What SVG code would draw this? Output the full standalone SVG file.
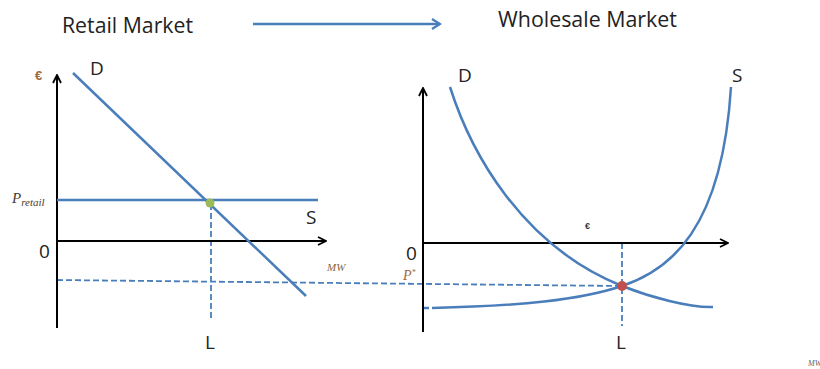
<svg xmlns="http://www.w3.org/2000/svg" width="820" height="369" viewBox="0 0 820 369">
<style>
.axis{stroke:#000;stroke-width:2;fill:none}
.curve{stroke:#4a7ebb;stroke-width:2.5;fill:none}
.dash{stroke:#4a7ebb;stroke-width:1.8;fill:none;stroke-dasharray:6,3}
.title{font-family:"Open Sans","Liberation Sans",Arial,sans-serif;font-size:21px;fill:#222}
.lbl{font-family:"Open Sans","Liberation Sans",Arial,sans-serif;font-size:19px;fill:#222}
.math{font-family:"Liberation Serif","Times New Roman",serif;font-style:italic;fill:#4a3b2e}
</style>
<defs>
<marker id="ah" viewBox="0 0 10 10" refX="9" refY="5" markerWidth="10" markerHeight="10" markerUnits="userSpaceOnUse" orient="auto">
<path d="M1,1 L9,5 L1,9" fill="none" stroke="#000" stroke-width="1.8"/>
</marker>
<marker id="ahb" viewBox="0 0 12 12" refX="10" refY="6" markerWidth="12" markerHeight="12" markerUnits="userSpaceOnUse" orient="auto">
<path d="M2,1 L10,6 L2,11" fill="none" stroke="#4a7ebb" stroke-width="2.2"/>
</marker>
</defs>

<g id="titles">
<text class="title" x="62" y="33" textLength="131" lengthAdjust="spacingAndGlyphs">Retail Market</text>
<text class="title" x="498" y="27" textLength="179" lengthAdjust="spacingAndGlyphs">Wholesale Market</text>
</g>

<g id="connectors">
<line x1="253" y1="24" x2="440" y2="24" stroke="#4a7ebb" stroke-width="2.5" marker-end="url(#ahb)"/>
<line class="dash" x1="57" y1="280" x2="620" y2="286"/>
<line class="dash" x1="211" y1="204" x2="211" y2="318"/>
<line class="dash" x1="622" y1="243" x2="622" y2="326"/>
</g>

<g id="retail-chart">
<line class="axis" x1="57" y1="328" x2="57" y2="75" marker-end="url(#ah)"/>
<line class="axis" x1="57" y1="241" x2="326" y2="241" marker-end="url(#ah)"/>
<line class="curve" x1="73" y1="73" x2="306" y2="296"/>
<line class="curve" x1="57" y1="200" x2="318" y2="200"/>
<circle cx="210" cy="203" r="4.5" fill="#9bbb59"/>
<text x="35" y="80" style="font-family:'Liberation Sans',Arial,sans-serif;font-size:13px;font-weight:bold;fill:#9a6a3c">€</text>
<text class="lbl" x="90" y="75">D</text>
<text class="lbl" x="306" y="224">S</text>
<text class="lbl" x="39" y="258">0</text>
<text class="lbl" x="205" y="349">L</text>
<text class="math" x="12" y="203" style="font-size:15px">P<tspan style="font-size:11px" dy="3">retail</tspan></text>
<text class="math" x="327" y="271" style="font-size:11px;fill:#8a6a3a">MW</text>
</g>

<g id="wholesale-chart">
<line class="axis" x1="423" y1="332" x2="423" y2="88" marker-end="url(#ah)"/>
<line class="axis" x1="423" y1="243" x2="728" y2="243" marker-end="url(#ah)"/>
<path class="curve" d="M450,87 C470,150 520,245 622,286 C650,297 690,308 713,307"/>
<path class="curve" d="M432,308 C520,306 580,300 622,286 C670,270 722,230 731,87"/>
<line class="curve" x1="424" y1="308" x2="429" y2="308"/>
<circle cx="622" cy="286" r="5" fill="#c0504d"/>
<text class="lbl" x="458" y="82">D</text>
<text class="lbl" x="732" y="82">S</text>
<text class="lbl" x="406" y="260">0</text>
<text class="lbl" x="616" y="349">L</text>
<text x="585" y="229" style="font-family:'Liberation Sans',Arial,sans-serif;font-size:9px;font-weight:bold;fill:#333">€</text>
<text class="math" x="403" y="280" style="font-size:14px;fill:#9a6a3c">P<tspan style="font-size:8px" dy="-5">*</tspan></text>
</g>

<text class="math" x="808" y="366" style="font-size:8px;fill:#666">MW</text>
</svg>
